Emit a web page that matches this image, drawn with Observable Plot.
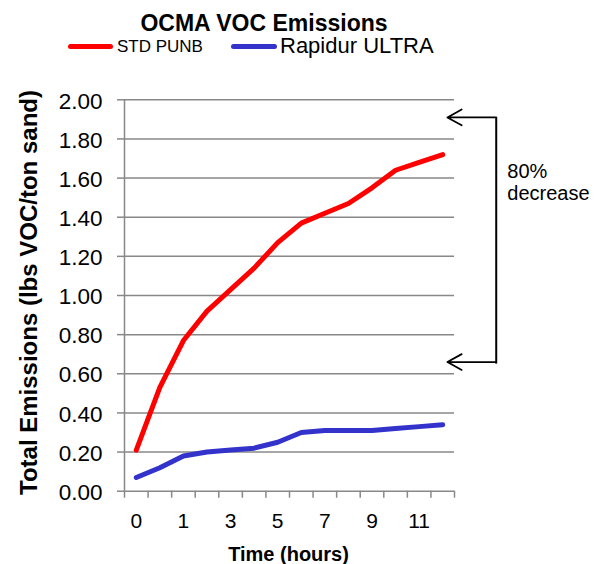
<!DOCTYPE html>
<html><head><meta charset="utf-8">
<script src="https://cdn.jsdelivr.net/npm/d3@7"></script>
<script src="https://cdn.jsdelivr.net/npm/@observablehq/plot@0.6"></script>
<style>
body{margin:0;background:#fff;font-family:"Liberation Sans",Arial,sans-serif;}
#wrap{position:relative;width:597px;height:564px;}
#head{position:relative;width:597px;height:60px;}
#head div{position:absolute;white-space:nowrap;}
#chart svg{display:block;}
</style></head><body>
<div id="wrap"><div id="head"></div><div id="chart"></div></div>
<script>
// ---- data ----
const chartTitle = "OCMA VOC Emissions";
const seriesNames = ["STD PUNB", "Rapidur ULTRA"];
const timeCategories = ["0","0.5","1","2","3","4","5","6","7","8","9","10","11","12"];
const stdPunb =      [0.21, 0.53, 0.77, 0.92, 1.03, 1.14, 1.27, 1.37, 1.42, 1.47, 1.55, 1.64, 1.68, 1.72];
const rapidurUltra = [0.07, 0.12, 0.18, 0.20, 0.21, 0.22, 0.25, 0.30, 0.31, 0.31, 0.31, 0.32, 0.33, 0.34];
const yTicks = [0, 0.2, 0.4, 0.6, 0.8, 1.0, 1.2, 1.4, 1.6, 1.8, 2.0];
const yLabel = "Total Emissions (lbs VOC/ton sand)";
const xLabel = "Time (hours)";
const annotText = "80%\ndecrease";
const annotLevels = [1.91, 0.66];     // arrow levels (y values)
const annotSpan = [1.912, 0.652];     // bracket extent
const annotX = {arrowTip: 13.2, bracket: 15.27, text: 15.74};

// ---- styling ----
const colors = ["#ff0000", "#3333cc"];
const gray = "#888888";

// header (title + legend)
const head = document.getElementById("head");
function addDiv(text, css){ const d=document.createElement("div"); d.textContent=text; Object.assign(d.style, css); head.appendChild(d); return d; }
addDiv(chartTitle, {left:"0px", width:"528px", textAlign:"center", top:"12px", fontSize:"23px", lineHeight:"23px", fontWeight:"bold"});
addDiv("", {left:"68px", width:"45px", top:"44px", height:"5px", borderRadius:"2.5px", background:colors[0]});
addDiv(seriesNames[0], {left:"117px", top:"38px", fontSize:"17px", lineHeight:"17px"});
addDiv("", {left:"231px", width:"46px", top:"44px", height:"5px", borderRadius:"2.5px", background:colors[1]});
addDiv(seriesNames[1], {left:"280px", top:"35px", fontSize:"22px", lineHeight:"22px"});

const rows = [];
timeCategories.forEach((c, i) => rows.push({i, v: stdPunb[i], s: seriesNames[0]}));
timeCategories.forEach((c, i) => rows.push({i, v: rapidurUltra[i], s: seriesNames[1]}));
const tickPos = d3.range(timeCategories.length + 1).map(k => k - 0.5);
const labelIdx = timeCategories.map((c, i) => i).filter(i => i % 2 === 0);

const chart = Plot.plot({
  width: 597, height: 504,
  marginLeft: 124, marginRight: 143, marginTop: 39.3, marginBottom: 73.3,
  style: {fontFamily: "'Liberation Sans', Arial, sans-serif", overflow: "visible", background: "#fff"},
  x: {type: "linear", domain: [-0.5, timeCategories.length - 0.5]},
  y: {domain: [0, 2]},
  color: {domain: seriesNames, range: colors},
  marks: [
    Plot.gridY(yTicks, {stroke: gray, strokeOpacity: 1, strokeWidth: 1.5}),
    Plot.ruleX([-0.5], {stroke: gray, strokeWidth: 1.5}),
    Plot.axisY(yTicks, {anchor: "left", tickSize: 7, tickFormat: () => "", stroke: gray, strokeWidth: 1.5, label: null}),
    Plot.axisY(yTicks, {anchor: "left", tickSize: 0, tickPadding: 22, fontSize: 22.5, dy: 1.5, fill: "black", tickFormat: d => d.toFixed(2), label: null}),
    Plot.axisX(tickPos, {anchor: "bottom", tickSize: 7, tickFormat: () => "", stroke: gray, strokeWidth: 1.5, label: null}),
    Plot.axisX(labelIdx, {anchor: "bottom", tickSize: 0, tickPadding: 22, fontSize: 21, fill: "black", tickFormat: i => timeCategories[i], label: null}),
    Plot.line(rows, {x: "i", y: "v", z: "s", stroke: "s", strokeWidth: 5, strokeLinecap: "round", strokeLinejoin: "round"}),
    Plot.text([yLabel], {frameAnchor: "left", textAnchor: "middle", lineAnchor: "middle", rotate: -90, dx: -95, dy: -3, fontSize: 24, fontWeight: "bold", fill: "black"}),
    Plot.text([xLabel], {frameAnchor: "bottom", textAnchor: "middle", lineAnchor: "middle", dy: 63, dx: -1, fontSize: 20, fontWeight: "bold", fill: "black"}),
    Plot.arrow(annotLevels, {x1: annotX.bracket, y1: d => d, x2: annotX.arrowTip, y2: d => d, stroke: "black", strokeWidth: 1.8, headLength: 19, headAngle: 58}),
    Plot.link([annotSpan], {x1: annotX.bracket, x2: annotX.bracket, y1: d => d[0], y2: d => d[1], stroke: "black", strokeWidth: 2}),
    Plot.text([annotText], {x: annotX.text, y: 1.58, textAnchor: "start", fontSize: 20, lineHeight: 1.08, fill: "black"})
  ]
});
document.getElementById("chart").appendChild(chart);
</script>
</body></html>
